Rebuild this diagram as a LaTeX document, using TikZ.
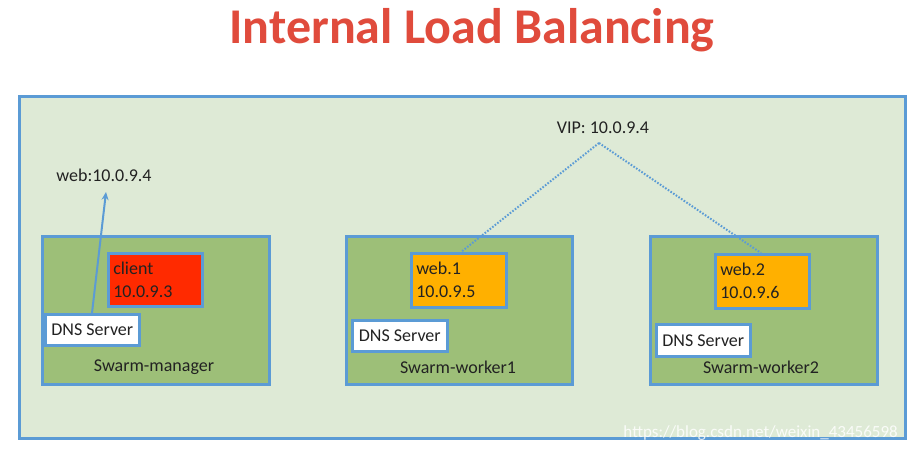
\documentclass[tikz,border=0pt]{standalone}
\usepackage{fontspec}
\setmainfont{Carlito}
\usetikzlibrary{arrows.meta}
\definecolor{frameblue}{HTML}{5B9BD5}
\definecolor{outerbg}{HTML}{DEEAD6}
\definecolor{hostgreen}{HTML}{9DBF78}
\definecolor{clientred}{HTML}{FF2A00}
\definecolor{weborange}{HTML}{FFB000}
\definecolor{titlered}{HTML}{E04B3C}
\definecolor{txt}{HTML}{222222}
\tikzset{
  host/.style={draw=frameblue, line width=2.5pt, fill=hostgreen, anchor=north west, inner sep=0pt},
  svc/.style={draw=frameblue, line width=2.5pt, anchor=north west, inner xsep=5pt, inner ysep=3pt, align=left, text=txt,
     font=\fontsize{18}{23}\selectfont},
  dns/.style={draw=frameblue, line width=2.5pt, fill=white, anchor=north west, inner xsep=4pt, inner ysep=0pt,
     text=txt, font=\fontsize{18}{21}\selectfont},
  lbl/.style={text=txt, font=\fontsize{18}{21}\selectfont, inner sep=0pt},
  vipline/.style={draw=frameblue, line width=2pt, dash pattern=on 1.6pt off 1.6pt},
}
\begin{document}
\begin{tikzpicture}[x=1pt,y=-1pt]
\useasboundingbox (0,0) rectangle (909,453);
\fill[white] (0,0) rectangle (909,453);
% title
\node[text=titlered, font=\fontsize{50}{58}\selectfont\bfseries] (title) at (472,30) {Internal Load Balancing};
% outer frame
\node[draw=frameblue, line width=3pt, fill=outerbg, anchor=north west, minimum width=886, minimum height=342, inner sep=0pt] (outer) at (18,95) {};
% hosts
\node[host, minimum width=227, minimum height=148] (mgr) at (41,235) {};
\node[host, minimum width=226, minimum height=148] (w1) at (345,235) {};
\node[host, minimum width=227, minimum height=148] (w2) at (649,235) {};
% services
\node[svc, fill=clientred, minimum width=94, minimum height=53, text width=84] (client) at (107,252) {client\\10.0.9.3};
\node[svc, fill=weborange, minimum width=95, minimum height=54, text width=85] (web1) at (410,252) {web.1\\10.0.9.5};
\node[svc, fill=weborange, minimum width=94, minimum height=54, text width=84] (web2) at (714,253) {web.2\\10.0.9.6};
% DNS servers
\node[dns, minimum width=94, minimum height=31] (dns0) at (44,313) {DNS Server};
\node[dns, minimum width=95, minimum height=31] (dns1) at (351,319) {DNS Server};
\node[dns, minimum width=94, minimum height=32] (dns2) at (655,323) {DNS Server};
% host labels
\node[lbl] (lmgr) at (154,367) {Swarm-manager};
\node[lbl] (lw1) at (458,367) {Swarm-worker1};
\node[lbl] (lw2) at (761,367) {Swarm-worker2};
% web lookup
\node[lbl] (weblbl) at (104,175) {web:10.0.9.4};
\coordinate (arrtip) at (106,192);
\draw[draw=frameblue, line width=2pt, -{Stealth[length=8pt,width=7pt]}] (dns0.north west -| 92,0) -- (arrtip);
% VIP
\node[lbl] (vip) at (603,128) {VIP: 10.0.9.4};
\coordinate (apex) at (599,143);
\draw[vipline] (apex) -- (web1.north -| 461,0);
\draw[vipline] (apex) -- (web2.north -| 761,0);
% watermark
\node[text=white, opacity=0.85, font=\fontsize{17}{19}\selectfont, anchor=east, inner sep=0pt] (wm) at (898,433) {https://blog.csdn.net/weixin\_43456598};
\end{tikzpicture}
\end{document}
